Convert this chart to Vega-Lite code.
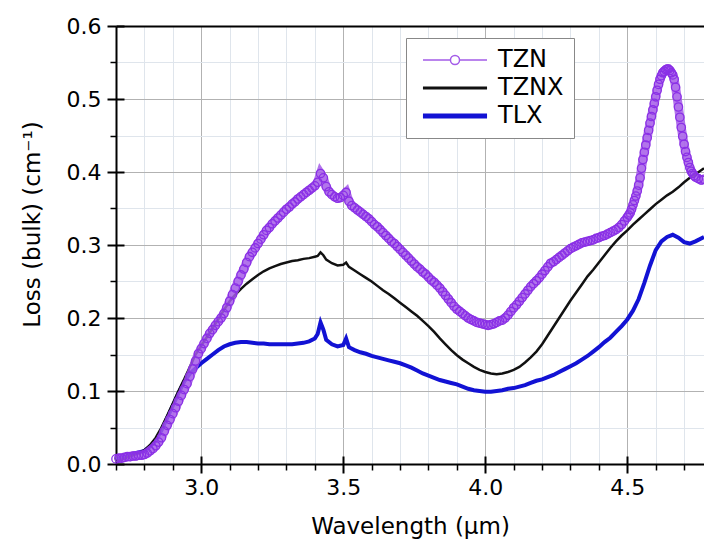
{
  "$schema": "https://vega.github.io/schema/vega-lite/v6.json",
  "width": 588,
  "height": 438,
  "autosize": {"type": "none"},
  "padding": {"left": 116, "top": 26, "right": 0, "bottom": 76},
  "background": "white",
  "config": {
    "view": {"stroke": null},
    "font": "DejaVu Sans",
    "axis": {"labelFont": "DejaVu Sans", "titleFont": "DejaVu Sans", "labelColor": "black", "titleColor": "black", "titleFontWeight": "normal", "tickColor": "black", "domainColor": "black"}
  },
  "datasets": {
    "tzn": [
      {"w":2.70,"l":0.007},{"w":2.71,"l":0.008},{"w":2.72,"l":0.008},{"w":2.73,"l":0.009},{"w":2.74,"l":0.010},{"w":2.75,"l":0.010},{"w":2.76,"l":0.011},{"w":2.77,"l":0.011},{"w":2.78,"l":0.012},{"w":2.79,"l":0.012},
      {"w":2.80,"l":0.013},{"w":2.81,"l":0.015},{"w":2.82,"l":0.018},{"w":2.83,"l":0.021},{"w":2.84,"l":0.025},{"w":2.85,"l":0.030},{"w":2.86,"l":0.036},{"w":2.87,"l":0.045},{"w":2.88,"l":0.053},{"w":2.89,"l":0.061},
      {"w":2.90,"l":0.069},{"w":2.91,"l":0.077},{"w":2.92,"l":0.086},{"w":2.93,"l":0.094},{"w":2.94,"l":0.102},{"w":2.95,"l":0.110},{"w":2.96,"l":0.120},{"w":2.97,"l":0.130},{"w":2.98,"l":0.141},{"w":2.99,"l":0.151},
      {"w":3.00,"l":0.158},{"w":3.01,"l":0.165},{"w":3.02,"l":0.172},{"w":3.03,"l":0.179},{"w":3.04,"l":0.184},{"w":3.05,"l":0.190},{"w":3.06,"l":0.195},{"w":3.07,"l":0.200},{"w":3.08,"l":0.206},{"w":3.09,"l":0.214},
      {"w":3.10,"l":0.223},{"w":3.11,"l":0.232},{"w":3.12,"l":0.241},{"w":3.13,"l":0.250},{"w":3.14,"l":0.259},{"w":3.15,"l":0.267},{"w":3.16,"l":0.276},{"w":3.17,"l":0.284},{"w":3.18,"l":0.290},{"w":3.19,"l":0.296},
      {"w":3.20,"l":0.302},{"w":3.21,"l":0.308},{"w":3.22,"l":0.314},{"w":3.23,"l":0.320},{"w":3.24,"l":0.324},{"w":3.25,"l":0.329},{"w":3.26,"l":0.333},{"w":3.27,"l":0.337},{"w":3.28,"l":0.341},{"w":3.29,"l":0.345},
      {"w":3.30,"l":0.349},{"w":3.31,"l":0.352},{"w":3.32,"l":0.356},{"w":3.33,"l":0.359},{"w":3.34,"l":0.363},{"w":3.35,"l":0.366},{"w":3.36,"l":0.369},{"w":3.37,"l":0.372},{"w":3.38,"l":0.375},{"w":3.39,"l":0.378},
      {"w":3.40,"l":0.381},{"w":3.41,"l":0.386},{"w":3.42,"l":0.398},{"w":3.43,"l":0.392},{"w":3.44,"l":0.380},{"w":3.45,"l":0.373},{"w":3.46,"l":0.369},{"w":3.47,"l":0.366},{"w":3.48,"l":0.364},{"w":3.49,"l":0.365},
      {"w":3.50,"l":0.368},{"w":3.51,"l":0.372},{"w":3.52,"l":0.360},{"w":3.53,"l":0.354},{"w":3.54,"l":0.351},{"w":3.55,"l":0.348},{"w":3.56,"l":0.345},{"w":3.57,"l":0.342},{"w":3.58,"l":0.339},{"w":3.59,"l":0.336},
      {"w":3.60,"l":0.332},{"w":3.61,"l":0.328},{"w":3.62,"l":0.325},{"w":3.63,"l":0.321},{"w":3.64,"l":0.317},{"w":3.65,"l":0.313},{"w":3.66,"l":0.309},{"w":3.67,"l":0.305},{"w":3.68,"l":0.302},{"w":3.69,"l":0.298},
      {"w":3.70,"l":0.294},{"w":3.71,"l":0.290},{"w":3.72,"l":0.286},{"w":3.73,"l":0.282},{"w":3.74,"l":0.278},{"w":3.75,"l":0.274},{"w":3.76,"l":0.270},{"w":3.77,"l":0.267},{"w":3.78,"l":0.263},{"w":3.79,"l":0.260},
      {"w":3.80,"l":0.256},{"w":3.81,"l":0.252},{"w":3.82,"l":0.249},{"w":3.83,"l":0.245},{"w":3.84,"l":0.241},{"w":3.85,"l":0.236},{"w":3.86,"l":0.231},{"w":3.87,"l":0.226},{"w":3.88,"l":0.221},{"w":3.89,"l":0.216},
      {"w":3.90,"l":0.212},{"w":3.91,"l":0.209},{"w":3.92,"l":0.206},{"w":3.93,"l":0.203},{"w":3.94,"l":0.200},{"w":3.95,"l":0.198},{"w":3.96,"l":0.196},{"w":3.97,"l":0.194},{"w":3.98,"l":0.193},{"w":3.99,"l":0.192},
      {"w":4.00,"l":0.191},{"w":4.01,"l":0.190},{"w":4.02,"l":0.191},{"w":4.03,"l":0.192},{"w":4.04,"l":0.194},{"w":4.05,"l":0.196},{"w":4.06,"l":0.197},{"w":4.07,"l":0.200},{"w":4.08,"l":0.204},{"w":4.09,"l":0.209},
      {"w":4.10,"l":0.214},{"w":4.11,"l":0.218},{"w":4.12,"l":0.223},{"w":4.13,"l":0.228},{"w":4.14,"l":0.233},{"w":4.15,"l":0.238},{"w":4.16,"l":0.243},{"w":4.17,"l":0.247},{"w":4.18,"l":0.251},{"w":4.19,"l":0.255},
      {"w":4.20,"l":0.260},{"w":4.21,"l":0.265},{"w":4.22,"l":0.270},{"w":4.23,"l":0.275},{"w":4.24,"l":0.277},{"w":4.25,"l":0.280},{"w":4.26,"l":0.283},{"w":4.27,"l":0.286},{"w":4.28,"l":0.289},{"w":4.29,"l":0.292},
      {"w":4.30,"l":0.295},{"w":4.31,"l":0.297},{"w":4.32,"l":0.299},{"w":4.33,"l":0.301},{"w":4.34,"l":0.303},{"w":4.35,"l":0.304},{"w":4.36,"l":0.305},{"w":4.37,"l":0.306},{"w":4.38,"l":0.307},{"w":4.39,"l":0.309},
      {"w":4.40,"l":0.310},{"w":4.41,"l":0.312},{"w":4.42,"l":0.313},{"w":4.43,"l":0.315},{"w":4.44,"l":0.317},{"w":4.45,"l":0.319},{"w":4.46,"l":0.321},{"w":4.47,"l":0.324},{"w":4.48,"l":0.328},{"w":4.49,"l":0.333},
      {"w":4.50,"l":0.338},{"w":4.505,"l":0.341},{"w":4.51,"l":0.344},{"w":4.515,"l":0.349},{"w":4.52,"l":0.355},{"w":4.525,"l":0.361},{"w":4.53,"l":0.367},{"w":4.535,"l":0.374},{"w":4.54,"l":0.382},{"w":4.545,"l":0.392},
      {"w":4.55,"l":0.405},{"w":4.555,"l":0.417},{"w":4.56,"l":0.427},{"w":4.565,"l":0.437},{"w":4.57,"l":0.447},{"w":4.575,"l":0.457},{"w":4.58,"l":0.467},{"w":4.585,"l":0.476},{"w":4.59,"l":0.485},{"w":4.595,"l":0.494},
      {"w":4.60,"l":0.503},{"w":4.605,"l":0.512},{"w":4.61,"l":0.520},{"w":4.615,"l":0.527},{"w":4.62,"l":0.532},{"w":4.625,"l":0.536},{"w":4.63,"l":0.538},{"w":4.635,"l":0.540},{"w":4.64,"l":0.541},{"w":4.645,"l":0.541},
      {"w":4.65,"l":0.539},{"w":4.655,"l":0.536},{"w":4.66,"l":0.533},{"w":4.665,"l":0.527},{"w":4.67,"l":0.516},{"w":4.675,"l":0.503},{"w":4.68,"l":0.489},{"w":4.685,"l":0.475},{"w":4.69,"l":0.461},{"w":4.695,"l":0.449},
      {"w":4.70,"l":0.438},{"w":4.705,"l":0.428},{"w":4.71,"l":0.420},{"w":4.715,"l":0.413},{"w":4.72,"l":0.406},{"w":4.725,"l":0.401},{"w":4.73,"l":0.398},{"w":4.735,"l":0.395},{"w":4.74,"l":0.393},{"w":4.75,"l":0.391},
      {"w":4.76,"l":0.389},{"w":4.77,"l":0.390}
    ],
    "tznx": [
      {"w":2.70,"l":0.004},{"w":2.72,"l":0.006},{"w":2.74,"l":0.009},{"w":2.76,"l":0.012},{"w":2.78,"l":0.015},{"w":2.80,"l":0.019},{"w":2.82,"l":0.026},{"w":2.84,"l":0.036},{"w":2.86,"l":0.050},{"w":2.88,"l":0.066},
      {"w":2.90,"l":0.083},{"w":2.92,"l":0.100},{"w":2.94,"l":0.116},{"w":2.96,"l":0.133},{"w":2.98,"l":0.150},{"w":3.00,"l":0.162},{"w":3.02,"l":0.174},{"w":3.04,"l":0.186},{"w":3.06,"l":0.198},{"w":3.08,"l":0.211},
      {"w":3.10,"l":0.223},{"w":3.12,"l":0.232},{"w":3.14,"l":0.240},{"w":3.16,"l":0.247},{"w":3.18,"l":0.253},{"w":3.20,"l":0.259},{"w":3.22,"l":0.264},{"w":3.24,"l":0.268},{"w":3.26,"l":0.271},{"w":3.28,"l":0.274},
      {"w":3.30,"l":0.276},{"w":3.32,"l":0.278},{"w":3.34,"l":0.279},{"w":3.36,"l":0.281},{"w":3.38,"l":0.282},{"w":3.40,"l":0.284},{"w":3.41,"l":0.285},{"w":3.42,"l":0.290},{"w":3.43,"l":0.286},{"w":3.44,"l":0.280},
      {"w":3.46,"l":0.275},{"w":3.48,"l":0.272},{"w":3.50,"l":0.273},{"w":3.51,"l":0.276},{"w":3.52,"l":0.270},{"w":3.54,"l":0.265},{"w":3.56,"l":0.260},{"w":3.58,"l":0.255},{"w":3.60,"l":0.250},{"w":3.62,"l":0.244},
      {"w":3.64,"l":0.238},{"w":3.66,"l":0.233},{"w":3.68,"l":0.227},{"w":3.70,"l":0.221},{"w":3.72,"l":0.215},{"w":3.74,"l":0.209},{"w":3.76,"l":0.203},{"w":3.78,"l":0.196},{"w":3.80,"l":0.189},{"w":3.82,"l":0.181},
      {"w":3.84,"l":0.172},{"w":3.86,"l":0.164},{"w":3.88,"l":0.156},{"w":3.90,"l":0.149},{"w":3.92,"l":0.143},{"w":3.94,"l":0.138},{"w":3.96,"l":0.133},{"w":3.98,"l":0.129},{"w":4.00,"l":0.126},{"w":4.02,"l":0.124},
      {"w":4.04,"l":0.123},{"w":4.06,"l":0.124},{"w":4.08,"l":0.126},{"w":4.10,"l":0.129},{"w":4.12,"l":0.133},{"w":4.14,"l":0.139},{"w":4.16,"l":0.146},{"w":4.18,"l":0.154},{"w":4.20,"l":0.164},{"w":4.22,"l":0.176},
      {"w":4.24,"l":0.188},{"w":4.26,"l":0.200},{"w":4.28,"l":0.212},{"w":4.30,"l":0.224},{"w":4.32,"l":0.235},{"w":4.34,"l":0.246},{"w":4.36,"l":0.257},{"w":4.38,"l":0.266},{"w":4.40,"l":0.276},{"w":4.42,"l":0.286},
      {"w":4.44,"l":0.296},{"w":4.46,"l":0.305},{"w":4.48,"l":0.313},{"w":4.50,"l":0.320},{"w":4.52,"l":0.328},{"w":4.54,"l":0.335},{"w":4.56,"l":0.342},{"w":4.58,"l":0.349},{"w":4.60,"l":0.356},{"w":4.62,"l":0.362},
      {"w":4.64,"l":0.368},{"w":4.66,"l":0.373},{"w":4.68,"l":0.379},{"w":4.70,"l":0.386},{"w":4.72,"l":0.392},{"w":4.74,"l":0.397},{"w":4.77,"l":0.405}
    ],
    "tlx": [
      {"w":2.70,"l":0.006},{"w":2.72,"l":0.008},{"w":2.74,"l":0.011},{"w":2.76,"l":0.014},{"w":2.78,"l":0.016},{"w":2.80,"l":0.018},{"w":2.82,"l":0.024},{"w":2.84,"l":0.032},{"w":2.86,"l":0.046},{"w":2.88,"l":0.063},
      {"w":2.90,"l":0.080},{"w":2.92,"l":0.097},{"w":2.94,"l":0.113},{"w":2.96,"l":0.124},{"w":2.98,"l":0.131},{"w":3.00,"l":0.138},{"w":3.02,"l":0.144},{"w":3.04,"l":0.150},{"w":3.06,"l":0.156},{"w":3.08,"l":0.161},
      {"w":3.10,"l":0.164},{"w":3.12,"l":0.166},{"w":3.14,"l":0.167},{"w":3.16,"l":0.167},{"w":3.18,"l":0.166},{"w":3.20,"l":0.165},{"w":3.22,"l":0.165},{"w":3.24,"l":0.164},{"w":3.26,"l":0.164},{"w":3.28,"l":0.164},
      {"w":3.30,"l":0.164},{"w":3.32,"l":0.164},{"w":3.34,"l":0.165},{"w":3.36,"l":0.166},{"w":3.38,"l":0.168},{"w":3.40,"l":0.172},{"w":3.41,"l":0.178},{"w":3.42,"l":0.194},{"w":3.43,"l":0.184},{"w":3.44,"l":0.170},
      {"w":3.46,"l":0.164},{"w":3.48,"l":0.161},{"w":3.50,"l":0.163},{"w":3.51,"l":0.172},{"w":3.52,"l":0.160},{"w":3.54,"l":0.156},{"w":3.56,"l":0.153},{"w":3.58,"l":0.151},{"w":3.60,"l":0.148},{"w":3.62,"l":0.146},
      {"w":3.64,"l":0.144},{"w":3.66,"l":0.142},{"w":3.68,"l":0.140},{"w":3.70,"l":0.138},{"w":3.72,"l":0.135},{"w":3.74,"l":0.132},{"w":3.76,"l":0.128},{"w":3.78,"l":0.124},{"w":3.80,"l":0.121},{"w":3.82,"l":0.118},
      {"w":3.84,"l":0.115},{"w":3.86,"l":0.113},{"w":3.88,"l":0.111},{"w":3.90,"l":0.109},{"w":3.92,"l":0.106},{"w":3.94,"l":0.103},{"w":3.96,"l":0.101},{"w":3.98,"l":0.100},{"w":4.00,"l":0.099},{"w":4.02,"l":0.099},
      {"w":4.04,"l":0.100},{"w":4.06,"l":0.101},{"w":4.08,"l":0.103},{"w":4.10,"l":0.104},{"w":4.12,"l":0.106},{"w":4.14,"l":0.108},{"w":4.16,"l":0.111},{"w":4.18,"l":0.114},{"w":4.20,"l":0.116},{"w":4.22,"l":0.119},
      {"w":4.24,"l":0.122},{"w":4.26,"l":0.126},{"w":4.28,"l":0.130},{"w":4.30,"l":0.134},{"w":4.32,"l":0.138},{"w":4.34,"l":0.143},{"w":4.36,"l":0.148},{"w":4.38,"l":0.154},{"w":4.40,"l":0.160},{"w":4.42,"l":0.167},
      {"w":4.44,"l":0.173},{"w":4.46,"l":0.181},{"w":4.48,"l":0.189},{"w":4.50,"l":0.198},{"w":4.52,"l":0.210},{"w":4.54,"l":0.226},{"w":4.56,"l":0.248},{"w":4.58,"l":0.272},{"w":4.60,"l":0.293},{"w":4.62,"l":0.305},
      {"w":4.64,"l":0.311},{"w":4.66,"l":0.314},{"w":4.68,"l":0.310},{"w":4.70,"l":0.304},{"w":4.72,"l":0.302},{"w":4.74,"l":0.305},{"w":4.77,"l":0.311}
    ]
  },
  "layer": [
    {
      "data": {"name": "tlx"},
      "mark": {"type": "line", "strokeWidth": 4},
      "encoding": {
        "x": {"field": "w", "type": "quantitative", "scale": {"domain": [2.7, 4.77], "nice": false, "zero": false},
              "axis": {"orient": "bottom", "values": [2.7,2.8,2.9,3.1,3.2,3.3,3.4,3.6,3.7,3.8,3.9,4.1,4.2,4.3,4.4,4.6,4.7], "labels": false, "domain": false, "title": null, "tickSize": 6, "tickWidth": 1.5, "grid": true, "gridColor": "#dfe5ec", "gridWidth": 1}},
        "y": {"field": "l", "type": "quantitative", "scale": {"domain": [0, 0.6], "nice": false, "zero": false},
              "axis": {"orient": "left", "values": [0.05,0.15,0.25,0.35,0.45,0.55], "labels": false, "domain": false, "title": null, "tickSize": 6, "tickWidth": 1.5, "grid": true, "gridColor": "#dfe5ec", "gridWidth": 1}},
        "color": {"datum": "TLX", "type": "nominal",
                  "scale": {"domain": ["TZN", "TZNX", "TLX"], "range": ["#a45ce8", "#111111", "#1212d4"]},
                  "legend": {"title": null, "orient": "none", "legendX": 290, "legendY": 12,
                             "fillColor": "white", "strokeColor": "#888888", "padding": 10, "rowPadding": 4,
                             "labelFont": "DejaVu Sans", "labelFontSize": 24, "labelColor": "black",
                             "symbolSize": 576, "symbolOffset": 27, "labelOffset": 31,
                             "encode": {"symbols": {"update": {
                               "shape": {"signal": "datum.value === 'TZN' ? 'M-2.67,0H-0.38M0.38,0H2.67M-0.38,0A0.38,0.38 0 1,0 0.38,0A0.38,0.38 0 1,0 -0.38,0' : 'M-2.67,0H2.67'"},
                               "strokeWidth": {"signal": "datum.value === 'TLX' ? 5 : datum.value === 'TZNX' ? 3 : 1.5"},
                               "stroke": {"signal": "datum.value === 'TZN' ? '#c890dc' : datum.value === 'TZNX' ? '#111111' : '#1212d4'"},
                               "fill": {"value": "white"},
                               "opacity": {"value": 1}
                             }}}}}
      }
    },
    {
      "data": {"name": "tznx"},
      "mark": {"type": "line", "strokeWidth": 2.5},
      "encoding": {
        "x": {"field": "w", "type": "quantitative",
              "axis": {"orient": "bottom", "values": [3.0, 3.5, 4.0, 4.5], "format": ".1f", "labelFontSize": 22, "labelPadding": 4, "tickSize": 9, "tickWidth": 2, "domain": true, "domainWidth": 2, "grid": true, "gridColor": "#b2b2b2", "gridWidth": 1, "title": "Wavelength (µm)", "titleFontSize": 23, "titlePadding": 17}},
        "y": {"field": "l", "type": "quantitative",
              "axis": {"orient": "left", "values": [0, 0.1, 0.2, 0.3, 0.4, 0.5, 0.6], "format": ".1f", "labelFontSize": 22, "labelPadding": 6, "tickSize": 9, "tickWidth": 2, "domain": true, "domainWidth": 2, "grid": true, "gridColor": "#b2b2b2", "gridWidth": 1, "title": "Loss (bulk) (cm⁻¹)", "titleFontSize": 23, "titlePadding": 22, "titleY": 198}},
        "color": {"datum": "TZNX", "type": "nominal"}
      }
    },
    {
      "data": {"name": "tzn"},
      "mark": {"type": "line", "strokeWidth": 9, "opacity": 0.85},
      "encoding": {
        "x": {"field": "w", "type": "quantitative",
              "axis": {"orient": "top", "labels": false, "ticks": false, "grid": false, "domain": true, "domainWidth": 2, "title": null}},
        "y": {"field": "l", "type": "quantitative", "axis": null},
        "color": {"datum": "TZN", "type": "nominal"}
      }
    },
    {
      "data": {"name": "tzn"},
      "mark": {"type": "point", "filled": false, "size": 70, "strokeWidth": 1.3, "color": "#8a30e6", "opacity": 1},
      "encoding": {
        "x": {"field": "w", "type": "quantitative",
              "axis": {"orient": "bottom", "values": [3.0, 3.5, 4.0, 4.5], "labels": false, "domain": false, "grid": false, "title": null, "tickSize": -8, "tickWidth": 2}},
        "y": {"field": "l", "type": "quantitative",
              "axis": {"orient": "left", "values": [0, 0.1, 0.2, 0.3, 0.4, 0.5, 0.6], "labels": false, "domain": false, "grid": false, "title": null, "tickSize": -8, "tickWidth": 2}}
      }
    }
  ],
  "resolve": {"axis": {"x": "independent", "y": "independent"}}
}
